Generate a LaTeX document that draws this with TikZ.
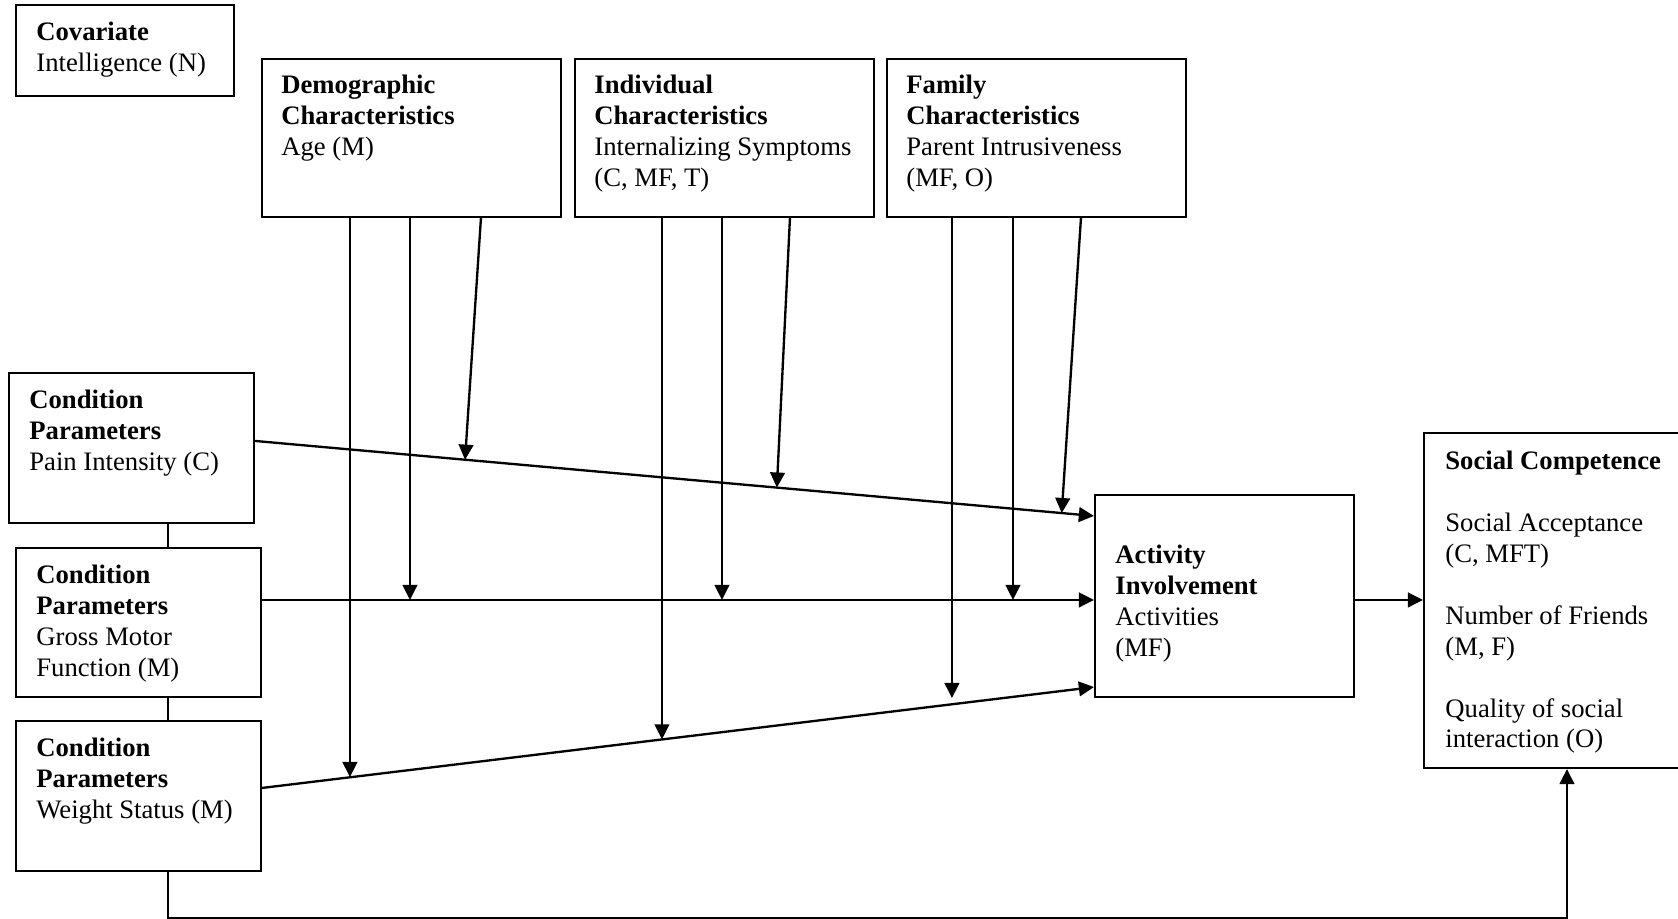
\documentclass[tikz,border=0pt]{standalone}
\usepackage{fontspec}
\setmainfont{Liberation Serif}
\usetikzlibrary{arrows.meta,calc}

\begin{document}
\begin{tikzpicture}[x=0.45pt,y=-0.45pt,
  frame/.style 2 args={draw, line width=0.95pt, inner sep=0pt,
    minimum width=#1*0.45pt, minimum height=#2*0.45pt},
  txt/.style={anchor=north west, inner sep=0pt, align=left,
    font=\fontsize{12}{13.9}\selectfont},
  link/.style={line width=1.05pt},
  arr/.style={line width=1.05pt, -{Triangle[length=6.8pt,width=6.6pt]}},
]
\useasboundingbox (0,0) rectangle (1678,919);
\clip (0,0) rectangle (1678,919);

% ---------- boxes ----------
\node[frame={218}{91}]  (cov)    at (125,50.5)   {};
\node[frame={299}{158}] (demo)   at (411.5,138)  {};
\node[frame={299}{158}] (indiv)  at (724.5,138)  {};
\node[frame={299}{158}] (fam)    at (1036.5,138) {};
\node[frame={245}{150}] (pain)   at (131.5,448)  {};
\node[frame={245}{149}] (gross)  at (138.5,622.5){};
\node[frame={245}{150}] (weight) at (138.5,796)  {};
\node[frame={259}{202}] (act)    at (1224.5,596) {};
\node[frame={276}{335}] (soc)    at (1562,600.5) {};

% ---------- box texts ----------
\node[txt] (covT) at ($(cov.north west)+(21,18)$)
  {\textbf{Covariate}\\Intelligence (N)};
\node[txt] (demoT) at ($(demo.north west)+(20,17)$)
  {\textbf{Demographic}\\\textbf{Characteristics}\\Age (M)};
\node[txt] (indivT) at ($(indiv.north west)+(20,17)$)
  {\textbf{Individual}\\\textbf{Characteristics}\\Internalizing Symptoms\\(C, MF, T)};
\node[txt] (famT) at ($(fam.north west)+(20,17)$)
  {\textbf{Family}\\\textbf{Characteristics}\\Parent Intrusiveness\\(MF, O)};
\node[txt] (painT) at ($(pain.north west)+(21,18)$)
  {\textbf{Condition}\\\textbf{Parameters}\\Pain Intensity (C)};
\node[txt] (grossT) at ($(gross.north west)+(21,18)$)
  {\textbf{Condition}\\\textbf{Parameters}\\Gross Motor\\Function (M)};
\node[txt] (weightT) at ($(weight.north west)+(21,18)$)
  {\textbf{Condition}\\\textbf{Parameters}\\Weight Status (M)};
\node[txt] (actT) at ($(act.north west)+(21,51)$)
  {\textbf{Activity}\\\textbf{Involvement}\\Activities\\(MF)};
\node[txt] (socT) at ($(soc.north west)+(22,19)$)
  {\textbf{Social Competence}\\[13.9pt]Social Acceptance\\(C, MFT)\\[13.9pt]Number of Friends\\(M, F)\\[13.9pt]Quality of social\\interaction (O)};

% ---------- main paths into Activity Involvement ----------
\coordinate (painOut)   at ($(pain.north east)+(0,69)$);
\coordinate (actInA)    at ($(act.north west)+(0,22)$);
\coordinate (grossOut)  at ($(gross.north east)+(0,53)$);
\coordinate (actInB)    at (act.west |- grossOut);
\coordinate (weightOut) at ($(weight.north east)+(0,68)$);
\coordinate (actInC)    at ($(act.south west)+(0,-11)$);
\coordinate (actOut)    at (act.east |- grossOut);
\coordinate (socIn)     at (soc.west |- grossOut);

\draw[arr] (painOut) -- (actInA);
\draw[arr] (grossOut) -- (actInB);
\draw[arr] (weightOut) -- (actInC);
\draw[arr] (actOut) -- (socIn);

% ---------- links between condition boxes and direct path ----------
\draw[link] ($(pain.south west)+(160,0)$) -- ($(gross.north west)+(153,0)$);
\draw[link] ($(gross.south west)+(153,0)$) -- ($(weight.north west)+(153,0)$);
\draw[arr] ($(weight.south west)+(153,0)$) -- ++(0,46) -| ($(soc.south west)+(144,0)$);

% ---------- moderators: Demographic Characteristics ----------
\coordinate (d1) at ($(demo.south west)+(89,0)$);
\coordinate (d2) at ($(demo.south west)+(149,0)$);
\coordinate (d3) at ($(demo.south west)+(220,0)$);
\coordinate (d1end) at ($(weightOut)!0.1079!(actInC)$);
\coordinate (d3end) at ($(painOut)!0.2503!(actInA)$);
\draw[arr] (d1) -- (d1 |- d1end);
\draw[arr] (d2) -- (d2 |- grossOut);
\draw[arr] (d3) -- (d3end);

% ---------- moderators: Individual Characteristics ----------
\coordinate (i1) at ($(indiv.south west)+(88,0)$);
\coordinate (i2) at ($(indiv.south west)+(148,0)$);
\coordinate (i3) at ($(indiv.south west)+(216,0)$);
\coordinate (i1end) at ($(weightOut)!0.4814!(actInC)$);
\coordinate (i3end) at ($(painOut)!0.622!(actInA)$);
\draw[arr] (i1) -- (i1 |- i1end);
\draw[arr] (i2) -- (i2 |- grossOut);
\draw[arr] (i3) -- (i3end);

% ---------- moderators: Family Characteristics ----------
\coordinate (f1) at ($(fam.south west)+(66,0)$);
\coordinate (f2) at ($(fam.south west)+(127,0)$);
\coordinate (f3) at ($(fam.south west)+(195,0)$);
\coordinate (f3end) at ($(painOut)!0.9616!(actInA)$);
\draw[arr] (f1) -- (f1 |- act.south);
\draw[arr] (f2) -- (f2 |- grossOut);
\draw[arr] (f3) -- (f3end);
\end{tikzpicture}
\end{document}
